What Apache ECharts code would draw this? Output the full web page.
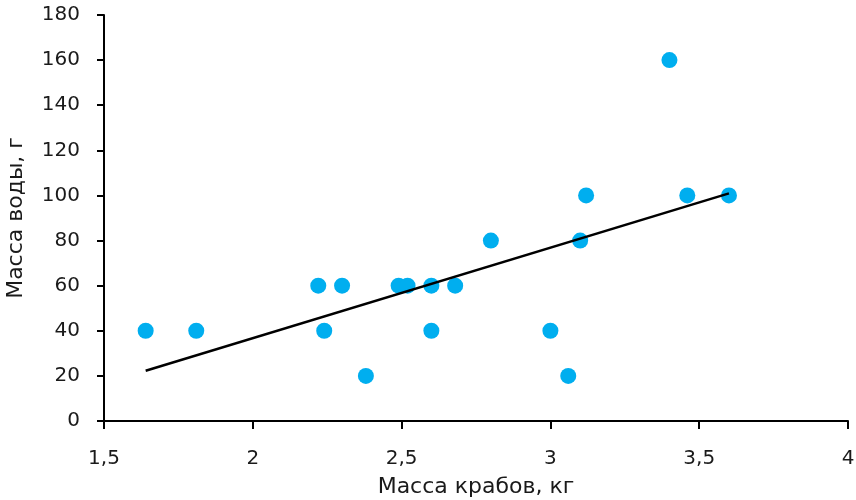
<!DOCTYPE html>
<html>
<head>
<meta charset="utf-8">
<script src="https://cdn.jsdelivr.net/npm/echarts@6/dist/echarts.min.js"></script>
<style>
  html, body { margin: 0; padding: 0; background: #fff; }
  #chart { width: 856px; height: 500px; }
</style>
</head>
<body>
<div id="chart"></div>
<script>
// Crab mass (kg) and water mass (g) for each sample
const crabMass = [1.64, 1.81, 2.22, 2.24, 2.30, 2.38, 2.49, 2.52, 2.60, 2.60, 2.68, 2.80, 3.00, 3.06, 3.10, 3.12, 3.40, 3.46, 3.60];
const waterMass = [40, 40, 60, 40, 60, 20, 60, 60, 60, 40, 60, 80, 40, 20, 80, 100, 160, 100, 100];

const xTitle = 'Масса крабов, кг';
const yTitle = 'Масса воды, г';

// Least-squares linear trend over the observed range
function linearTrend(xs, ys) {
  const n = xs.length;
  const mx = xs.reduce((a, b) => a + b, 0) / n;
  const my = ys.reduce((a, b) => a + b, 0) / n;
  let sxy = 0, sxx = 0;
  for (let i = 0; i < n; i++) {
    sxy += (xs[i] - mx) * (ys[i] - my);
    sxx += (xs[i] - mx) * (xs[i] - mx);
  }
  const k = sxy / sxx;
  const b = my - k * mx;
  const x0 = Math.min(...xs), x1 = Math.max(...xs);
  return [[x0, k * x0 + b], [x1, k * x1 + b]];
}

const points = crabMass.map((x, i) => [x, waterMass[i]]);
const trend = linearTrend(crabMass, waterMass);

const font = 'Verdana, "DejaVu Sans", sans-serif';
const chart = echarts.init(document.getElementById('chart'), null, { renderer: 'canvas' });

chart.setOption({
  animation: false,
  backgroundColor: '#ffffff',
  grid: { left: 104, right: 8, top: 15, bottom: 79, containLabel: false, outerBoundsMode: 'none' },
  xAxis: {
    type: 'value',
    min: 1.5, max: 4, interval: 0.5,
    name: xTitle,
    nameLocation: 'middle',
    nameGap: 55,
    nameTextStyle: { fontFamily: font, fontSize: 22, color: '#1a1a1a' },
    axisLine: { show: true, onZero: false, lineStyle: { color: '#000', width: 2 } },
    axisTick: { show: true, length: 8, lineStyle: { color: '#000', width: 2 } },
    axisLabel: {
      fontFamily: font, fontSize: 20, color: '#1a1a1a', margin: 28,
      formatter: v => String(v).replace('.', ',')
    },
    splitLine: { show: false }
  },
  yAxis: {
    type: 'value',
    min: 0, max: 180, interval: 20,
    name: yTitle,
    nameLocation: 'middle',
    nameGap: 77,
    nameTextStyle: { fontFamily: font, fontSize: 22, color: '#1a1a1a' },
    axisLine: { show: true, lineStyle: { color: '#000', width: 2 } },
    axisTick: { show: true, length: 7, lineStyle: { color: '#000', width: 2 } },
    axisLabel: { fontFamily: font, fontSize: 20, color: '#1a1a1a', margin: 24 },
    splitLine: { show: false }
  },
  series: [
    {
      type: 'scatter',
      data: points,
      symbol: 'circle',
      symbolSize: 16,
      itemStyle: { color: '#00aeef', opacity: 1 },
      z: 2
    },
    {
      type: 'line',
      data: trend,
      symbol: 'none',
      lineStyle: { color: '#000', width: 2.5 },
      z: 3
    }
  ]
});
</script>
</body>
</html>
